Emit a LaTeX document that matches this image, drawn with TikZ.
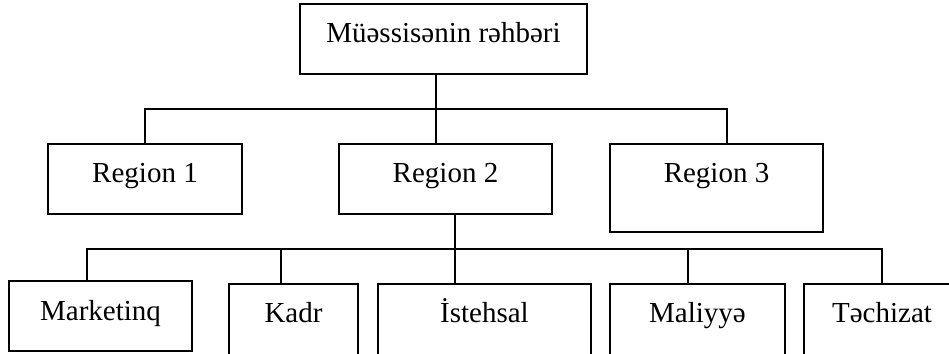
\documentclass[tikz,border=0pt]{standalone}
\usepackage{fontspec}
\setmainfont{Liberation Serif}
\begin{document}
\begin{tikzpicture}[x=1pt,y=-1pt,
  box/.style={draw=black,line width=1.3pt,inner sep=0pt,fill=white,
    font=\fontsize{29}{34}\selectfont},
  conn/.style={draw=black,line width=1.5pt}]
\clip (0,0) rectangle (949,353);
\fill[white] (0,0) rectangle (949,353);
% nodes
\node[box,minimum width=287pt,minimum height=70pt,text height=39pt,text depth=31pt] (top) at (443.5,39) {Müəssisənin rəhbəri};
\node[box,minimum width=194pt,minimum height=70pt,text height=38pt,text depth=32pt] (r1) at (145,179) {Region 1};
\node[box,minimum width=213pt,minimum height=70pt,text height=38pt,text depth=32pt] (r2) at (445.5,179) {Region 2};
\node[box,minimum width=213pt,minimum height=88pt,text height=38pt,text depth=50pt] (r3) at (716.5,188) {Region 3};
\node[box,minimum width=183pt,minimum height=70pt,text height=39pt,text depth=31pt] (mk) at (100.5,316) {Marketinq};
\node[box,minimum width=129pt,minimum height=80pt,text height=38pt,text depth=42pt] (kd) at (293.5,324) {Kadr};
\node[box,minimum width=213pt,minimum height=80pt,text height=38pt,text depth=42pt] (is) at (484.5,324) {İstehsal};
\node[box,minimum width=175pt,minimum height=80pt,text height=38pt,text depth=42pt] (ml) at (697.5,324) {Maliyyə};
\node[box,minimum width=156pt,minimum height=80pt,text height=38pt,text depth=42pt] (tc) at (882,324) {Təchizat};
% junction coordinates
\coordinate (ja) at (436,109);
\coordinate (jr3) at (727,109);
\coordinate (jb) at (455,249);
\coordinate (jmk) at (87,249);
\coordinate (jkd) at (281,249);
\coordinate (jml) at (688,249);
% upper connectors
\draw[conn] (top.south -| ja) -- (r2.north -| ja);
\draw[conn] (r1.north) |- (jr3) -- (r3.north -| jr3);
% lower connectors
\draw[conn] (r2.south -| jb) -- (is.north -| jb);
\draw[conn] (mk.north -| jmk) -- (jmk) -- (tc.north |- jmk) -- (tc.north);
\draw[conn] (jkd) -- (kd.north -| jkd);
\draw[conn] (jml) -- (ml.north -| jml);
\end{tikzpicture}
\end{document}
